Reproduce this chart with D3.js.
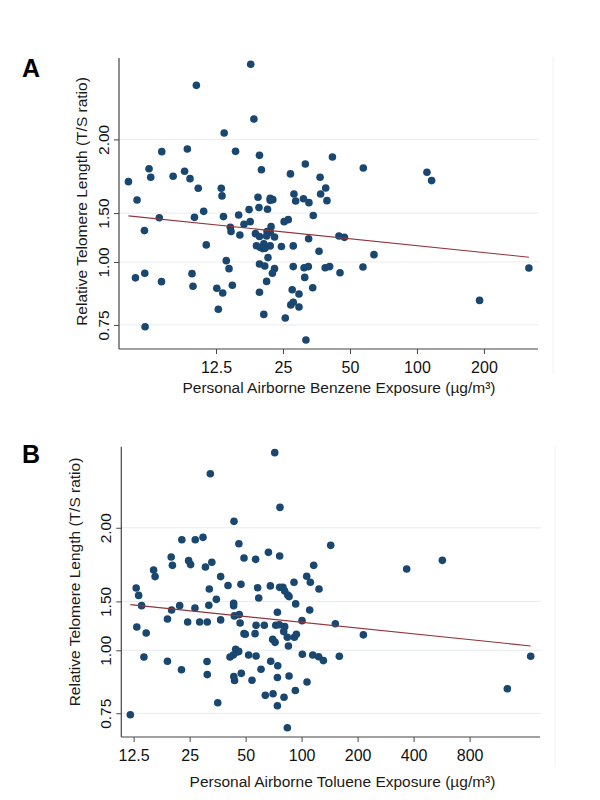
<!DOCTYPE html>
<html>
<head>
<meta charset="utf-8">
<script src="https://cdn.jsdelivr.net/npm/d3@7"></script>
<style>
  html, body { margin: 0; padding: 0; background: #fff; }
  svg { display: block; }
  text { font-family: "Liberation Sans", Arial, sans-serif; }
</style>
</head>
<body>
<svg id="chart" width="600" height="800"></svg>
<script>
// ---------- DATA ----------
// Panel A: benzene exposure (µg/m³) vs relative telomere length
const benzeneX = [17.9,10.2,18.5,13.6,7.13,9.29,15.3,19.6,31.5,6.25,9.03,20.0,27.0,5.05,6.36,8.02,9.55,36.7,10.4,13.2,
  38.9,5.52,13.3,19.3,21.9,22.5,21.9,28.0,28.5,30.9,32.7,36.9,39.4,11.0,17.6,19.5,21.3,6.95,10.0,13.5,
  15.8,17.8,16.7,25.3,26.4,34.2,5.96,14.5,14.6,16.0,18.8,19.6,21.1,21.9,22.1,21.2,22.9,32.6,11.3,19.0,
  19.8,20.5,20.3,20.75,21.9,24.6,27.8,36.3,13.9,21.4,14.3,19.6,20.7,22.9,22.4,27.8,31.1,32.5,38.7,5.43,
  5.98,7.11,9.75,9.85,12.6,13.4,14.8,21.1,31.3,34.0,19.6,27.5,29.5,27.1,27.8,29.5,12.8,20.5,25.6,6.0,
  31.7,41.7,57.4,110.9,116.4,44.6,47.2,40.5,45.1,57.2,64.1,318.6,191.2];
const benzeneY = [2.466,2.240,1.921,1.802,1.655,1.675,1.657,1.627,1.564,1.531,1.513,1.524,1.495,1.443,1.472,1.479,1.463,1.472,1.400,1.400,
  1.402,1.327,1.352,1.344,1.337,1.329,1.325,1.364,1.321,1.335,1.311,1.364,1.323,1.260,1.270,1.282,1.272,1.224,1.226,1.230,
  1.239,1.202,1.188,1.202,1.213,1.236,1.154,1.172,1.149,1.131,1.138,1.123,1.126,1.145,1.175,1.149,1.121,1.112,1.081,1.077,
  1.068,1.086,1.063,1.064,1.076,1.073,1.076,1.050,1.006,1.020,0.970,0.991,0.982,0.970,0.950,0.979,0.974,0.979,0.974,0.930,
  0.950,0.914,0.948,0.895,0.887,0.868,0.899,0.915,0.932,0.889,0.871,0.881,0.864,0.822,0.832,0.814,0.806,0.787,0.774,0.744,
  0.700,1.615,1.536,1.506,1.450,1.126,1.119,0.979,0.952,0.977,1.034,0.973,0.839];
const benzeneFitX = [5.05, 318.6];
const benzeneFitY = [1.234, 1.022];

// Panel B: toluene exposure (µg/m³) vs relative telomere length
const tolueneX = [71.7,32.3,76.5,43.3,22.7,26.8,29.5,46.0,66.3,76.2,19.9,20.2,24.7,25.3,32.9,30.4,49.0,56.6,116.1,16.0,
  16.3,36.7,106.5,111.4,12.9,13.3,31.9,40.2,47.2,58.0,58.8,67.9,76.2,79.4,81.1,84.2,85.6,91.0,124.0,13.8,
  20.0,22.1,26.7,31.7,34.8,43.1,43.1,74.1,92.9,110.5,19.0,24.4,28.3,31.1,36.7,43.5,46.2,46.7,56.9,63.0,
  72.6,75.9,81.1,100.5,13.0,14.6,49.0,49.8,56.2,80.1,83.8,91.4,93.7,69.9,72.0,84.9,14.2,19.0,22.6,31.0,
  31.1,41.2,42.9,44.2,45.1,45.9,51.9,56.9,68.2,74.4,100.9,114.7,123.5,43.2,43.6,47.4,54.1,60.5,74.1,85.6,
  106.9,92.5,63.8,70.2,80.4,74.1,35.4,12.0,83.8,143.3,151.8,214.7,367.1,570.9,130.9,159.5,1276,1704];
const tolueneY = [2.466,2.240,1.921,1.802,1.657,1.657,1.675,1.627,1.564,1.538,1.531,1.474,1.506,1.479,1.495,1.463,1.524,1.515,1.474,1.443,
  1.400,1.400,1.402,1.364,1.329,1.285,1.323,1.344,1.352,1.331,1.270,1.342,1.333,1.333,1.311,1.287,1.278,1.364,1.323,1.226,
  1.202,1.226,1.213,1.228,1.262,1.239,1.226,1.190,1.236,1.202,1.154,1.138,1.138,1.138,1.149,1.170,1.177,1.133,1.121,1.121,
  1.121,1.124,1.114,1.145,1.112,1.082,1.079,1.076,1.079,1.089,1.061,1.061,1.076,1.051,1.037,1.020,0.970,0.951,0.915,0.950,
  0.895,0.970,0.979,1.005,0.992,0.995,0.979,0.974,0.951,0.932,0.982,0.979,0.971,0.887,0.871,0.900,0.872,0.917,0.883,0.889,
  0.865,0.832,0.814,0.820,0.807,0.776,0.787,0.745,0.702,1.615,1.129,1.073,1.450,1.508,0.954,0.973,0.839,0.973];
const tolueneFitX = [12.0, 1704];
const tolueneFitY = [1.232, 1.020];

// Tick values and labels
const benzeneXTicks = [12.5, 25, 50, 100, 200];
const benzeneXTickLabels = ["12.5", "25", "50", "100", "200"];
const tolueneXTicks = [12.5, 25, 50, 100, 200, 400, 800];
const tolueneXTickLabels = ["12.5", "25", "50", "100", "200", "400", "800"];
const yTickValues = [0.75, 1.0, 1.25, 1.75];
const yTickLabels = ["0.75", "1.00", "1.50", "2.00"];

const panelLabels = ["A", "B"];
const yTitle = "Relative Telomere Length (T/S ratio)";
const xTitles = ["Personal Airborne Benzene Exposure (\u00b5g/m\u00b3)",
                 "Personal Airborne Toluene Exposure (\u00b5g/m\u00b3)"];

// ---------- LAYOUT ----------
const panels = [
  { label: panelLabels[0], xs: benzeneX, ys: benzeneY, fx: benzeneFitX, fy: benzeneFitY,
    xt: benzeneXTicks, xtl: benzeneXTickLabels, xTitle: xTitles[0],
    xDomain: [4.58, 350], yDomain: [0.672, 2.538],
    left: 119, right: 538, top: 58, bottom: 349,
    labelY: 77, yTitleX: 86.5, yTitleY: 201.5, xTitleX: 339, xTitleY: 393, xTickY: 372.5, frameX: 553 },
  { label: panelLabels[1], xs: tolueneX, ys: tolueneY, fx: tolueneFitX, fy: tolueneFitY,
    xt: tolueneXTicks, xtl: tolueneXTickLabels, xTitle: xTitles[1],
    xDomain: [10.73, 1912], yDomain: [0.673, 2.534],
    left: 121.3, right: 540, top: 446.7, bottom: 737,
    labelY: 463, yTitleX: 79.5, yTitleY: 582, xTitleX: 342.5, xTitleY: 786.7, xTickY: 760.7, frameX: 555 }
];

const dotColor = "#1a476f";
const fitColor = "#90353b";
const gridColor = "#e6ecef";
const axisColor = "#444";

const svg = d3.select("#chart");

panels.forEach(p => {
  const g = svg.append("g");
  const x = d3.scaleLog().base(2).domain(p.xDomain).range([p.left, p.right]);
  const y = d3.scaleLog().domain(p.yDomain).range([p.bottom, p.top]);

  // faint outer frame line on the right
  g.append("line")
    .attr("x1", p.frameX).attr("x2", p.frameX)
    .attr("y1", p.top - 1).attr("y2", p.xTitleY - 20)
    .attr("stroke", "#f1f3f4").attr("stroke-width", 1);

  // gridlines
  g.append("g").selectAll("line").data(yTickValues).join("line")
    .attr("x1", p.left).attr("x2", p.right + 1)
    .attr("y1", d => y(d)).attr("y2", d => y(d))
    .attr("stroke", gridColor).attr("stroke-width", 1);

  // y axis
  const yAxis = d3.axisLeft(y).tickValues(yTickValues)
    .tickFormat((d, i) => yTickLabels[i]).tickSize(5).tickPadding(0);
  const ya = g.append("g").attr("transform", `translate(${p.left},0)`).call(yAxis);
  ya.select(".domain").attr("stroke", axisColor).attr("stroke-width", 1.2)
    .attr("d", `M0,${p.top}V${p.bottom}`);
  ya.selectAll(".tick line").attr("stroke", axisColor).attr("stroke-width", 1);
  ya.selectAll(".tick text")
    .attr("x", null).attr("dy", null)
    .attr("transform", "translate(-10.5,0) rotate(-90)")
    .attr("text-anchor", "middle")
    .attr("fill", "#111")
    .style("font-size", "15.5px");

  // x axis
  const xAxis = d3.axisBottom(x).tickValues(p.xt)
    .tickFormat((d, i) => p.xtl[i]).tickSize(5).tickPadding(0);
  const xa = g.append("g").attr("transform", `translate(0,${p.bottom})`).call(xAxis);
  xa.select(".domain").attr("stroke", axisColor).attr("stroke-width", 1.2)
    .attr("d", `M${p.left},0H${p.right}`);
  xa.selectAll(".tick line").attr("stroke", axisColor).attr("stroke-width", 1);
  xa.selectAll(".tick text")
    .attr("y", p.xTickY - p.bottom).attr("dy", null)
    .attr("fill", "#111")
    .style("font-size", "16px");

  // points
  const pts = p.xs.map((v, i) => [v, p.ys[i]]);
  g.append("g").selectAll("circle").data(pts).join("circle")
    .attr("cx", d => x(d[0])).attr("cy", d => y(d[1]))
    .attr("r", 3.8).attr("fill", dotColor);

  // fit line
  const line = d3.line().x(d => x(d[0])).y(d => y(d[1]));
  g.append("path")
    .datum(p.fx.map((v, i) => [v, p.fy[i]]))
    .attr("d", line).attr("fill", "none")
    .attr("stroke", fitColor).attr("stroke-width", 1.1);

  // titles
  g.append("text")
    .attr("transform", `translate(${p.yTitleX},${p.yTitleY}) rotate(-90)`)
    .attr("text-anchor", "middle").attr("fill", "#1a1a1a")
    .style("font-size", "15.5px").text(yTitle);

  g.append("text")
    .attr("x", p.xTitleX).attr("y", p.xTitleY)
    .attr("text-anchor", "middle").attr("fill", "#1a1a1a")
    .style("font-size", "15.5px").text(p.xTitle);

  g.append("text")
    .attr("x", 22).attr("y", p.labelY)
    .attr("fill", "#000").style("font-size", "25px").style("font-weight", "bold")
    .text(p.label);
});
</script>
</body>
</html>
